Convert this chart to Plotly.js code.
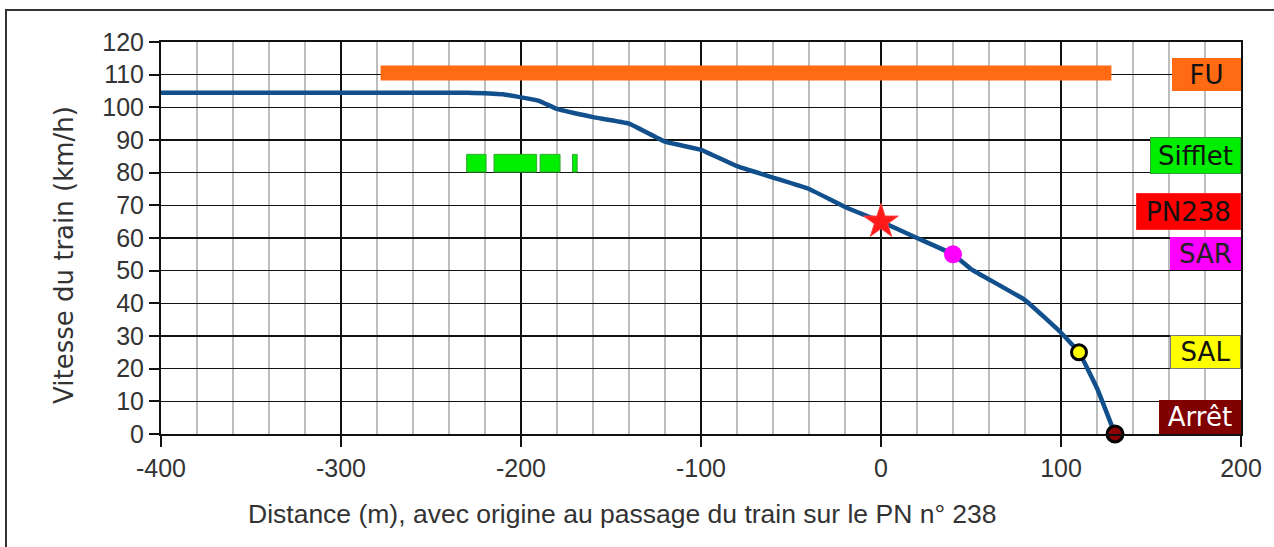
<!DOCTYPE html>
<html>
<head>
<meta charset="utf-8">
<script src="https://cdn.plot.ly/plotly-3.0.1.min.js"></script>
<style>
  html, body { margin: 0; padding: 0; background: #fff; }
  #wrap { position: relative; width: 1274px; height: 547px; overflow: hidden; }
  #chart { width: 1274px; height: 547px; }
  #frame { position: absolute; left: 5px; top: 9px; width: 1400px; height: 700px;
           border-left: 2px solid #333; border-top: 2px solid #333; pointer-events: none; }
</style>
</head>
<body>
<div id="wrap"><div id="chart"></div><div id="frame"></div></div>
<script>
// Speed profile of the train (distance in m, speed in km/h)
const distance = [-400, -230, -210, -190, -180, -160, -140, -120, -100, -80, -60, -40, -20, 0, 20, 40, 50, 80, 100, 110, 120, 130];
const speed    = [104.5, 104.5, 104, 102, 99.5, 97, 95, 89.5, 87, 82, 78.5, 75, 69.5, 65, 60, 55, 50.5, 41, 31, 25, 14, 0];

// Axis ticks (hyphen minus, as in the original)
const xTickVals = [-400, -300, -200, -100, 0, 100, 200];
const xTickText = ['-400', '-300', '-200', '-100', '0', '100', '200'];

// Emergency brake (FU) band
const fuStart = -278, fuEnd = 128, fuLevel = 110.5;

// Whistle (Sifflet) segments
const siffletStart = [-230.2, -215, -189.4, -171.4];
const siffletEnd   = [-219.4, -191.3, -178.3, -168.8];
const siffletLow = 80.2, siffletHigh = 85.6;

// Events on the curve
const pnX = [0],   pnV = [65];
const sarX = [40], sarV = [55];
const salX = [110], salV = [25];
const stopX = [130], stopV = [0];

// Legend-like labels at the right
const labelTexts = ['FU', 'Sifflet', 'PN238', 'SAR', 'SAL', 'Arrêt'];
const labelY     = [110, 85.2, 68.1, 55.2, 25.1, 5.2];
const labelBg    = ['#ff6a13', '#00ee00', '#ff0000', '#ff00ff', '#ffff00', '#800000'];
const labelFg    = ['#111111', '#111111', '#111111', '#222222', '#111111', '#ffffff'];
const labelBorder= ['#ff6a13', '#2e9e2e', '#ff2a2a', '#ff00ff', '#777777', '#800000'];
const labelW     = [67, 89, 103, 69, 69, 80];
const labelH     = [31, 35, 35, 31, 32, 32];

// Axis titles
const xTitle = 'Distance (m), avec origine au passage du train sur le PN n° 238';
const yTitle = 'Vitesse du train (km/h)';

const traces = [
  { x: [fuStart, fuEnd], y: [fuLevel, fuLevel], mode: 'lines',
    line: { color: '#ff6a13', width: 15 }, hoverinfo: 'skip', showlegend: false },
  { x: distance, y: speed, mode: 'lines',
    line: { color: '#11508c', width: 4.5, shape: 'spline', smoothing: 0.3 },
    cliponaxis: false, showlegend: false },
  { x: pnX, y: pnV, mode: 'markers', cliponaxis: false, showlegend: false,
    marker: { symbol: 'star', size: 26, color: '#ff1a1a', line: { color: '#ff4040', width: 1 } } },
  { x: sarX, y: sarV, mode: 'markers', cliponaxis: false, showlegend: false,
    marker: { symbol: 'circle', size: 18, color: '#ff00ff' } },
  { x: salX, y: salV, mode: 'markers', cliponaxis: false, showlegend: false,
    marker: { symbol: 'circle', size: 15, color: '#ffff00', line: { color: '#000', width: 3 } } },
  { x: stopX, y: stopV, mode: 'markers', cliponaxis: false, showlegend: false,
    marker: { symbol: 'circle', size: 16, color: '#8b0000', line: { color: '#000', width: 3 } } }
];

const shapes = siffletStart.map((s, i) => ({
  type: 'rect', xref: 'x', yref: 'y', x0: s, x1: siffletEnd[i], y0: siffletLow, y1: siffletHigh,
  fillcolor: '#00ee00', line: { color: '#33a833', width: 1 }, layer: 'above'
}));

const annotations = labelTexts.map((t, i) => ({
  x: 200, y: labelY[i], xref: 'x', yref: 'y', xanchor: 'right', yanchor: 'middle',
  text: t, showarrow: false, align: 'center', valign: 'middle',
  width: labelW[i], height: labelH[i],
  bgcolor: labelBg[i], bordercolor: labelBorder[i], borderwidth: 1, borderpad: 0,
  font: { family: 'DejaVu Sans', size: 26, color: labelFg[i] }
}));

annotations.push({
  xref: 'paper', yref: 'paper', x: (622 - 161) / 1080, y: (434 - 514) / 392,
  xanchor: 'center', yanchor: 'middle', showarrow: false, text: xTitle,
  font: { family: 'Liberation Sans', size: 26.5, color: '#333' }
});
annotations.push({
  xref: 'paper', yref: 'paper', x: (64 - 161) / 1080, y: (434 - 255) / 392,
  xanchor: 'center', yanchor: 'middle', showarrow: false, text: yTitle, textangle: -90,
  font: { family: 'DejaVu Sans', size: 26, color: '#333' }
});

const layout = {
  width: 1274, height: 547,
  margin: { l: 161, r: 33, t: 42, b: 113, pad: 0 },
  paper_bgcolor: '#ffffff', plot_bgcolor: '#ffffff',
  showlegend: false,
  font: { family: 'Liberation Sans', size: 25, color: '#333' },
  xaxis: {
    range: [-400, 200], tickmode: 'array', tickvals: xTickVals, ticktext: xTickText,
    showgrid: true, gridcolor: '#111', gridwidth: 1.6,
    minor: { dtick: 20, tick0: -400, showgrid: true, gridcolor: '#bdbdbd', gridwidth: 2, ticks: '' },
    ticks: 'outside', ticklen: 11, tickwidth: 2, tickcolor: '#111',
    showline: true, linecolor: '#111', linewidth: 2, mirror: true,
    zeroline: false, tickfont: { family: 'Liberation Sans', size: 25, color: '#333' }
  },
  yaxis: {
    range: [0, 120], tick0: 0, dtick: 10, tickmode: 'linear',
    showgrid: true, gridcolor: '#111', gridwidth: 1.6,
    ticks: 'outside', ticklen: 10, tickwidth: 2, tickcolor: '#111',
    showline: true, linecolor: '#111', linewidth: 2, mirror: true,
    zeroline: false, tickfont: { family: 'Liberation Sans', size: 25, color: '#333' }
  },
  shapes: shapes,
  annotations: annotations
};

Plotly.newPlot('chart', traces, layout, { displayModeBar: false, staticPlot: true });
</script>
</body>
</html>
